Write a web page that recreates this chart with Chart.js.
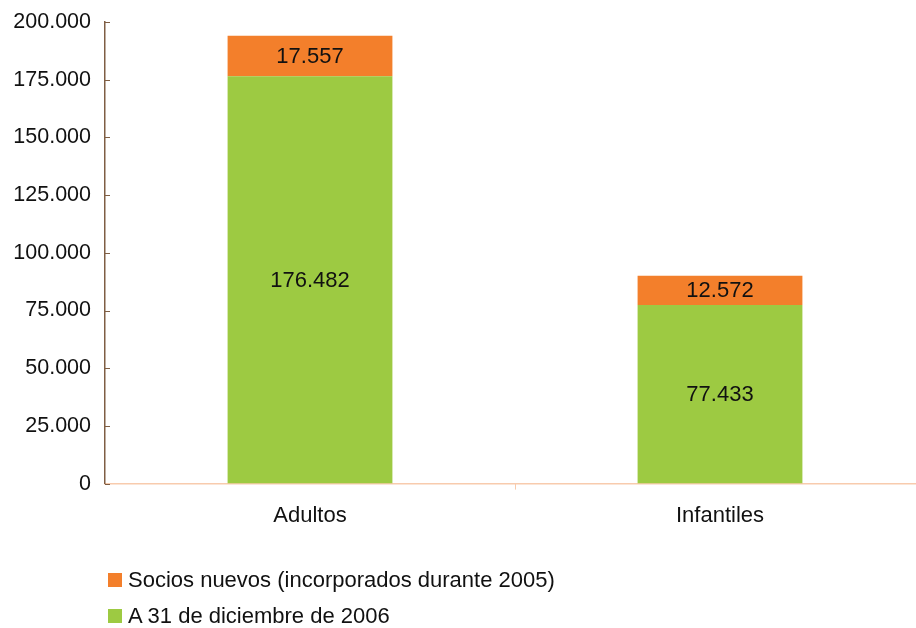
<!DOCTYPE html>
<html>
<head>
<meta charset="utf-8">
<script src="https://cdn.jsdelivr.net/npm/chart.js@4/dist/chart.umd.min.js"></script>
<style>
  html, body { margin: 0; padding: 0; background: #fff; overflow: hidden; }
  #wrap { position: relative; width: 926px; height: 628px; }
  #legend { position: absolute; left: 108px; top: 567px; font-family: "Liberation Sans", Arial, sans-serif; font-size: 22px; color: #111; }
  #legend .item { display: flex; align-items: center; height: 26px; margin-bottom: 10px; }
  #legend .box { width: 14px; height: 14px; margin-right: 6px; }
</style>
</head>
<body>
<div id="wrap">
  <canvas id="chart" width="926" height="628"></canvas>
  <div id="legend"></div>
</div>
<script>
const categories = ['Adultos', 'Infantiles'];
const baseValues = [176482, 77433];
const newValues = [17557, 12572];
const seriesLabels = ['A 31 de diciembre de 2006', 'Socios nuevos (incorporados durante 2005)'];
const yTicks = [0, 25000, 50000, 75000, 100000, 125000, 150000, 175000, 200000];

const green = '#9DCA42';
const orange = '#F37F2B';
const font = { family: '"Liberation Sans", Arial, sans-serif', size: 22 };
const tickFont = { family: '"Liberation Sans", Arial, sans-serif', size: 21.5 };

function fmt(v) {
  return String(v).replace(/\B(?=(\d{3})+(?!\d))/g, '.');
}

// inner tick marks and value labels
const extras = {
  id: 'extras',
  afterDatasetsDraw(chart) {
    const ctx = chart.ctx;
    const y = chart.scales.y;
    const x = chart.scales.x;
    ctx.save();
    ctx.strokeStyle = '#7F5E44';
    ctx.lineWidth = 1;
    yTicks.forEach(function (t) {
      const py = Math.round(y.getPixelForValue(t)) + 0.5;
      ctx.beginPath();
      ctx.moveTo(x.left, py);
      ctx.lineTo(x.left + 5, py);
      ctx.stroke();
    });
    ctx.strokeStyle = '#F8CBAD';
    for (let i = 1; i < categories.length; i++) {
      const px = Math.round((x.getPixelForValue(i - 1) + x.getPixelForValue(i)) / 2) + 0.5;
      ctx.beginPath();
      ctx.moveTo(px, y.bottom);
      ctx.lineTo(px, y.bottom + 6);
      ctx.stroke();
    }
    ctx.fillStyle = '#111';
    ctx.font = font.size + 'px ' + font.family;
    ctx.textAlign = 'center';
    ctx.textBaseline = 'middle';
    chart.data.datasets.forEach(function (ds, di) {
      chart.getDatasetMeta(di).data.forEach(function (bar, i) {
        const p = bar.getProps(['x', 'y', 'base'], true);
        ctx.fillText(fmt(ds.data[i]), p.x, (p.y + p.base) / 2 + 1);
      });
    });
    ctx.restore();
  }
};

const chart = new Chart(document.getElementById('chart').getContext('2d'), {
  type: 'bar',
  data: {
    labels: categories,
    datasets: [
      { label: seriesLabels[0], data: baseValues, backgroundColor: green, barPercentage: 0.402, categoryPercentage: 1 },
      { label: seriesLabels[1], data: newValues, backgroundColor: orange, barPercentage: 0.402, categoryPercentage: 1 }
    ]
  },
  options: {
    responsive: false,
    animation: false,
    layout: { padding: { top: 22, left: 0, right: 1, bottom: 80 } },
    plugins: {
      legend: { display: false },
      tooltip: { enabled: false }
    },
    scales: {
      x: {
        stacked: true,
        grid: { display: false, drawTicks: false, tickLength: 0 },
        border: { display: true, color: '#F8CBAD', width: 1.5 },
        ticks: { color: '#111', font: font, padding: 19 }
      },
      y: {
        stacked: true,
        min: 0,
        max: 200000,
        afterBuildTicks: function (scale) {
          scale.ticks = yTicks.map(function (v) { return { value: v }; });
        },
        afterFit: function (scale) {
          scale.paddingTop = 0;
          scale.paddingBottom = 0;
          scale.width = 105;
        },
        grid: { display: false, drawTicks: false, tickLength: 0 },
        border: { display: true, color: '#7F5E44', width: 1.5 },
        ticks: {
          color: '#111',
          font: tickFont,
          padding: 14,
          callback: function (value) { return fmt(value); }
        }
      }
    }
  },
  plugins: [extras]
});

// legend, top to bottom in reverse stacking order
const legend = document.getElementById('legend');
chart.data.datasets.slice().reverse().forEach(function (ds) {
  const item = document.createElement('div');
  item.className = 'item';
  const box = document.createElement('span');
  box.className = 'box';
  box.style.background = ds.backgroundColor;
  const text = document.createElement('span');
  text.textContent = ds.label;
  item.appendChild(box);
  item.appendChild(text);
  legend.appendChild(item);
});
</script>
</body>
</html>
